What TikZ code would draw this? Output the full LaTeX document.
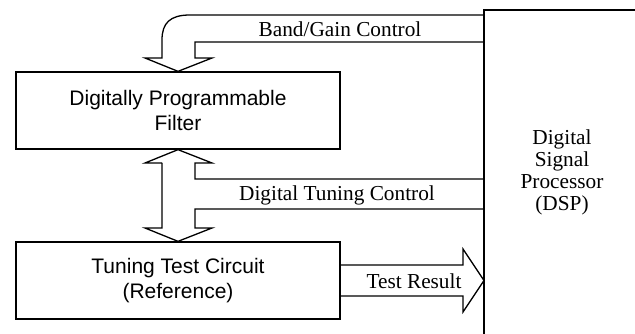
\documentclass[tikz,border=0pt]{standalone}
\usepackage{fontspec}
\setmainfont{Liberation Serif}
\setsansfont{Liberation Sans}
\begin{document}
\begin{tikzpicture}[x=1pt,y=-1pt,
  blockbox/.style={draw,line width=1.3pt,minimum width=324pt,minimum height=77pt,inner sep=0pt,align=center,font=\sffamily\fontsize{21}{24.5}\selectfont},
  lbl/.style={inner sep=0pt,font=\rmfamily\fontsize{21.3}{22}\selectfont},
  conn/.style={line width=1.3pt,line join=miter}]
\useasboundingbox (0,0) rectangle (635,334);
\node[blockbox] (filter) at (178,110.5) {Digitally Programmable\\Filter};
\node[blockbox] (tuning) at (178,280.5) {Tuning Test Circuit\\(Reference)};
\node[lbl,align=center] (dsp) at (562,172) {Digital\\Signal\\Processor\\(DSP)};
\coordinate (dsptop) at (484,10);
\coordinate (dspbot) at (484,334);
\coordinate (dspright) at (636,10);
\draw[conn] (dspbot) -- (dsptop) -- (dspright);
% Band/Gain control arrow
\draw[conn] (dsptop |- 0,15) -- (190,15) .. controls (170,15) and (162,23) .. (162,40) -- (162,58) -- (145,58) -- (filter.north) -- (212,58) -- (195,58) -- (195,42) -- (dsptop |- 0,42);
\node[lbl] (bg) at (340,29) {Band/Gain Control};
% Digital tuning control double arrow
\draw[conn] (162,163) -- (145,163) -- (filter.south) -- (212,163) -- (195,163) -- (195,179) -- (dsptop |- 0,179);
\draw[conn] (dsptop |- 0,209) -- (195,209) -- (195,228) -- (212,228) -- (tuning.north) -- (145,228) -- (162,228) -- (162,163);
\node[lbl] (dtc) at (337,195) {Digital Tuning Control};
% Test result arrow
\draw[conn] (tuning.east |- 0,265) -- (463,265) -- (463,249) -- (dsptop |- 0,280.5) -- (463,312) -- (463,296) -- (tuning.east |- 0,296);
\node[lbl] (tr) at (414,281) {Test Result};
\end{tikzpicture}
\end{document}
